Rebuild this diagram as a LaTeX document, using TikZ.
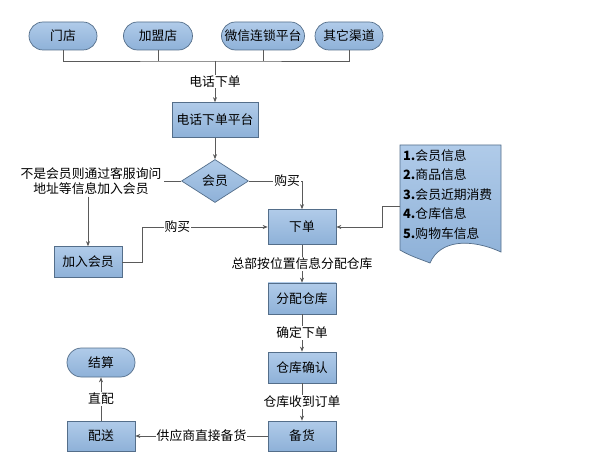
\documentclass[tikz,border=0pt]{standalone}
\usepackage{fontspec}
\setmainfont{Noto Sans CJK SC}
\usetikzlibrary{arrows.meta,shapes.geometric,shapes.misc}
\definecolor{boxtop}{RGB}{176,203,233}
\definecolor{boxbot}{RGB}{142,177,216}
\definecolor{boxline}{RGB}{84,110,138}
\definecolor{wire}{RGB}{90,90,90}
\begin{document}
\begin{tikzpicture}[x=1pt,y=-1pt,
    font=\fontsize{12.8}{15}\selectfont,
    base/.style={draw=boxline, line width=0.7pt, top color=boxtop, bottom color=boxbot, inner sep=0pt},
    term/.style={base, rounded rectangle, minimum width=68pt, minimum height=28pt},
    proc/.style={base, rectangle, minimum width=68pt, minimum height=31pt},
    decide/.style={base, diamond, minimum width=67pt, minimum height=43pt},
    lbl/.style={fill=white, inner sep=1pt},
    wire/.style={draw=wire, line width=0.6pt},
    flow/.style={wire, -{Stealth[length=5pt,width=4pt]}}]
  \useasboundingbox (0,0) rectangle (592,465);
  % sources
  \node[term] (shop) at (63,36) {门店};
  \node[term, minimum width=69pt] (franchise) at (158,36) {加盟店};
  \node[term, minimum width=83pt] (wechat) at (263,36) {微信连锁平台};
  \node[term] (other) at (349,36) {其它渠道};
  \coordinate (bus) at (215,61);
  \draw[wire] (shop.south) |- (bus) -| (other.south);
  \draw[wire] (franchise.south) -- (franchise.south |- bus);
  \draw[wire] (wechat.south) -- (wechat.south |- bus);
  % phone order
  \node[proc, minimum width=86pt, minimum height=35pt] (phone) at (215,120) {电话下单平台};
  \draw[flow] (bus) -- node[lbl] {电话下单} (phone.north);
  \node[decide] (member) at (215,181) {会员};
  \draw[flow] (phone.south) -- (member.north);
  \node[align=center, inner sep=2pt] (note) at (91,181) {不是会员则通过客服询问\\地址等信息加入会员};
  \draw[wire] (member.west) -- (note.east);
  \node[proc] (join) at (88,262) {加入会员};
  \draw[flow] (join.north |- note.south) -- (join.north);
  \node[proc, minimum height=35pt] (order) at (302,227) {下单};
  \draw[flow] (member.east) -| node[lbl, pos=0.36] {购买} (order.north);
  \draw[flow] (join.east) -- ++(20,0) |- node[lbl, pos=0.64] {购买} (order.west);
  % info document
  \draw[draw=boxline, line width=0.7pt, top color=boxtop, bottom color=boxbot]
    (400,145) -- (501,145) -- (501,252) .. controls (470,238) and (440,240) .. (430,263)
    .. controls (420,259) and (410,256) .. (400,250) -- cycle;
  \node[anchor=north west, align=left, inner sep=3pt, font=\fontsize{12.8}{19.5}\selectfont] (info) at (400,146)
    {\textbf{1.}会员信息\\\textbf{2.}商品信息\\\textbf{3.}会员近期消费\\\textbf{4.}仓库信息\\\textbf{5.}购物车信息};
  \coordinate (infoport) at (400,206);
  \draw[flow] (infoport) -- ++(-18,0) |- (order.east);
  % warehouse chain
  \node[proc] (alloc) at (302,298.5) {分配仓库};
  \draw[flow] (order.south) -- node[lbl] {总部按位置信息分配仓库} (alloc.north);
  \node[proc] (confirm) at (302,367.5) {仓库确认};
  \draw[flow] (alloc.south) -- node[lbl] {确定下单} (confirm.north);
  \node[proc, minimum height=30pt] (stock) at (302,436) {备货};
  \draw[flow] (confirm.south) -- node[lbl] {仓库收到订单} (stock.north);
  \node[proc, minimum height=30pt] (deliver) at (101,436) {配送};
  \draw[flow] (stock.west) -- node[lbl] {供应商直接备货} (deliver.east);
  \node[term, minimum height=29pt] (settle) at (101,362.5) {结算};
  \draw[flow] (deliver.north) -- node[lbl] {直配} (settle.south);
\end{tikzpicture}
\end{document}
